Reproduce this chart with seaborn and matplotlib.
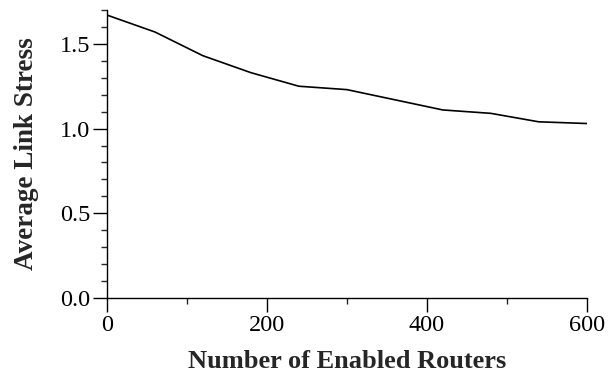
import pandas as pd
import matplotlib
matplotlib.use('Agg')
import matplotlib.pyplot as plt
import seaborn as sns
from matplotlib.ticker import MultipleLocator

routers = [0, 60, 120, 180, 240, 300, 360, 420, 480, 540, 600]
stress = [1.67, 1.57, 1.43, 1.33, 1.25, 1.23, 1.17, 1.11, 1.09, 1.04, 1.03]

df = pd.DataFrame({'routers': routers, 'stress': stress})

sns.set_style('ticks')
plt.rcParams['font.family'] = ['Liberation Serif', 'DejaVu Serif']

fig = plt.figure(figsize=(6.08, 3.77), dpi=100)
ax = fig.add_axes([0.176, 0.2095, 0.789, 0.764])
sns.lineplot(data=df, x='routers', y='stress', color='black', linewidth=1.2, ax=ax)

ax.set_xlim(0, 600)
ax.set_ylim(0, 1.7)
ax.xaxis.set_major_locator(MultipleLocator(200))
ax.xaxis.set_minor_locator(MultipleLocator(100))
ax.yaxis.set_major_locator(MultipleLocator(0.5))
ax.yaxis.set_minor_locator(MultipleLocator(0.1))
ax.yaxis.set_major_formatter(matplotlib.ticker.FormatStrFormatter('%.1f'))
ax.tick_params(which='major', length=10, width=1, labelsize=17.5, colors='black', direction='out', pad=2)
ax.tick_params(which='minor', length=4, width=1, direction='out')

sns.despine(ax=ax)
for s in ['left', 'bottom']:
    ax.spines[s].set_linewidth(1)
    ax.spines[s].set_color('black')

ax.set_xlabel('Number of Enabled Routers', fontsize=19, fontweight='bold', labelpad=10)
ax.set_ylabel('Average Link Stress', fontsize=19.5, fontweight='bold', labelpad=15)

plt.savefig('out.png', dpi=100)
